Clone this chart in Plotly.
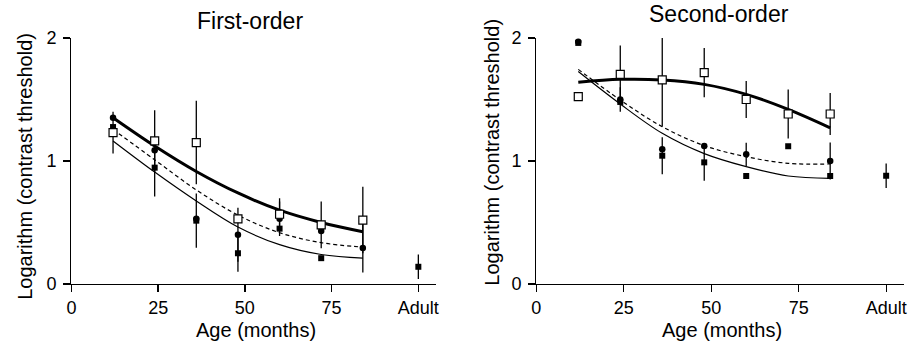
import plotly.graph_objects as go

# ---------------- data ----------------
ages = [12, 24, 36, 48, 60, 72, 84]
adult_pos = 100
x_tick_vals = [0, 25, 50, 75, 100]
x_tick_text = ["0", "25", "50", "75", "Adult"]
y_tick_vals = [0, 1, 2]
y_tick_text = ["0", "1", "2"]

# First-order panel
fo_open = [1.23, 1.163, 1.15, 0.53, 0.567, 0.48, 0.52]
fo_open_err = [0.17, 0.25, 0.34, 0, 0.13, 0.19, 0.27]
fo_circ = [1.352, 1.087, 0.53, 0.40, 0.53, 0.43, 0.293]
fo_circ_err = [0, 0, 0, 0.22, 0.14, 0, 0.20]
fo_sq = [1.276, 0.946, 0.515, 0.25, 0.45, 0.21, None]
fo_sq_err = [0, 0.235, 0.22, 0.15, 0, 0, 0]
fo_adult = [0.14]
fo_adult_err = [0.10]
fo_fit_open = [1.352, 1.122, 0.915, 0.74, 0.60, 0.50, 0.425]
fo_fit_circ = [1.257, 1.01, 0.765, 0.56, 0.417, 0.336, 0.30]
fo_fit_sq = [1.163, 0.91, 0.675, 0.463, 0.32, 0.24, 0.21]

# Second-order panel
so_open = [1.523, 1.705, 1.66, 1.718, 1.50, 1.382, 1.382]
so_open_err = [0, 0.235, 0.38, 0.20, 0.15, 0.20, 0.17]
so_circ = [1.97, 1.50, 1.095, 1.122, 1.054, None, 1.0]
so_circ_err = [0, 0.10, 0, 0, 0.095, 0, 0.15]
so_sq = [1.96, 1.48, 1.043, 0.989, 0.878, 1.12, 0.878]
so_sq_err = [0, 0, 0.15, 0.15, 0, 0, 0]
so_adult = [0.88]
so_adult_err = [0.10]
so_fit_open = [1.64, 1.664, 1.659, 1.623, 1.542, 1.42, 1.27]
so_fit_circ = [1.745, 1.496, 1.279, 1.125, 1.035, 0.981, 0.976]
so_fit_sq = [1.727, 1.463, 1.225, 1.06, 0.954, 0.878, 0.859]

# ---------------- figure ----------------
FONT = "Liberation Sans, Arial, Helvetica, sans-serif"
fig = go.Figure()


def err(vals):
    return dict(type="data", array=vals, visible=True, color="black",
                thickness=1.3, width=0)


def add_panel(xa, ya, fit_open, fit_circ, fit_sq, op, op_e, ci, ci_e, sq, sq_e, ad, ad_e):
    common = dict(xaxis=xa, yaxis=ya, showlegend=False, hoverinfo="skip")
    fig.add_trace(go.Scatter(x=ages, y=fit_sq, mode="lines", line_shape="spline",
                             line=dict(color="black", width=1.2), **common))
    fig.add_trace(go.Scatter(x=ages, y=fit_circ, mode="lines", line_shape="spline",
                             line=dict(color="black", width=1.2, dash="4px,3px"), **common))
    fig.add_trace(go.Scatter(x=ages, y=fit_open, mode="lines", line_shape="spline",
                             line=dict(color="black", width=3), **common))
    fig.add_trace(go.Scatter(x=ages, y=sq, mode="markers", error_y=err(sq_e), cliponaxis=False,
                             marker=dict(symbol="square", size=6, color="black"), **common))
    fig.add_trace(go.Scatter(x=ages, y=ci, mode="markers", error_y=err(ci_e), cliponaxis=False,
                             marker=dict(symbol="circle", size=6.5, color="black"), **common))
    fig.add_trace(go.Scatter(x=ages, y=op, mode="markers", error_y=err(op_e), cliponaxis=False,
                             marker=dict(symbol="square", size=8, color="white",
                                         line=dict(color="black", width=1.2)), **common))
    fig.add_trace(go.Scatter(x=[adult_pos], y=ad, mode="markers", error_y=err(ad_e), cliponaxis=False,
                             marker=dict(symbol="square", size=6, color="black"), **common))


add_panel("x", "y", fo_fit_open, fo_fit_circ, fo_fit_sq, fo_open, fo_open_err,
          fo_circ, fo_circ_err, fo_sq, fo_sq_err, fo_adult, fo_adult_err)
add_panel("x2", "y2", so_fit_open, so_fit_circ, so_fit_sq, so_open, so_open_err,
          so_circ, so_circ_err, so_sq, so_sq_err, so_adult, so_adult_err)

W, H = 912, 346
axis_common = dict(showline=True, linecolor="black", linewidth=1.3, ticks="outside",
                   ticklen=7, tickwidth=1.3, tickcolor="black", showgrid=False,
                   zeroline=False, tickfont=dict(family=FONT, size=18, color="black"))
xcommon = dict(axis_common, range=[0, 105], tickmode="array", tickvals=x_tick_vals,
               ticktext=x_tick_text)
ycommon = dict(axis_common, range=[0, 2], tickmode="array", tickvals=y_tick_vals,
               ticktext=y_tick_text, ticklabelstandoff=3)

fig.update_layout(
    width=W, height=H,
    margin=dict(l=0, r=0, t=38, b=62),
    paper_bgcolor="white", plot_bgcolor="white",
    xaxis=dict(xcommon, domain=[67 / W, 434.5 / W], anchor="y"),
    yaxis=dict(ycommon, domain=[0, 1], anchor="x"),
    xaxis2=dict(xcommon, domain=[536 / W, 906.6 / W], anchor="y2"),
    yaxis2=dict(ycommon, domain=[0, 1], anchor="x2"),
)


def py(p):
    return (284 - p) / 246


ann = [
    dict(text="First-order", x=247 / W, y=py(21), size=23, angle=0),
    dict(text="Second-order", x=720.7 / W, y=py(14), size=23, angle=0),
    dict(text="Age (months)", x=253 / W, y=py(330), size=20, angle=0),
    dict(text="Age (months)", x=723.5 / W, y=py(330), size=20, angle=0),
    dict(text="Logarithm (contrast threshold)", x=20 / W, y=py(166), size=20, angle=-90),
    dict(text="Logarithm (contrast threshold)", x=491 / W, y=py(152), size=20, angle=-90),
]
for a in ann:
    fig.add_annotation(text=a["text"], x=a["x"], y=a["y"], xref="paper", yref="paper",
                       xanchor="center", yanchor="middle", showarrow=False,
                       textangle=a["angle"],
                       font=dict(family=FONT, size=a["size"], color="black"))

fig.write_html("out.html",
               config={"displayModeBar": False, "staticPlot": True},
               post_script="document.body.style.margin='0';document.body.style.padding='0';")
